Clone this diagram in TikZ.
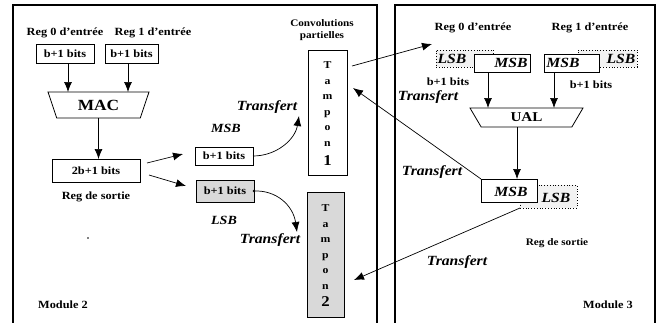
\documentclass[tikz,border=0pt]{standalone}
\usepackage{fontspec}
\setmainfont{Liberation Serif}[FakeStretch=1.12]
\usetikzlibrary{arrows.meta,shapes.geometric,calc}
\newcommand{\myfs}[1]{\fontsize{#1}{#1}\selectfont}
\begin{document}
\begin{tikzpicture}[x=1pt,y=-1pt,
  every node/.style={inner sep=0pt, outer sep=0pt},
  lbl/.style={font=\myfs{11}\bfseries},
  ital/.style={font=\myfs{14}\bfseries\itshape},
  box/.style={draw, line width=0.8pt, font=\myfs{11}\bfseries},
  lsbbox/.style={draw, dotted, line width=0.8pt, fill=black!5},
  shaded/.style={fill=black!15},
  trap/.style={draw, line width=0.8pt, trapezium, shape border rotate=180, trapezium stretches body},
  frame/.style={line width=1.1pt},
  arr/.style={-{Latex[length=10pt,width=8pt]}, line width=0.7pt},
  tamp/.style={box},
  tampt/.style={align=center, font=\fontsize{10.5}{15.5}\selectfont\bfseries}
]
\useasboundingbox (0,0) rectangle (660,322);
\fill[white] (0,0) rectangle (660,322);
% frames
\draw[frame] (13,323) -- (13,5) -- (377,5) -- (377,323);
\draw[frame] (395,323) -- (395,5) -- (655,5) -- (655,323);

% ---------------- Module 2 ----------------
\node[lbl] (l0) at (65,33) {Reg 0 d'entrée};
\node[lbl] (l1) at (153,33) {Reg 1 d'entrée};
\node[box, minimum width=58pt, minimum height=19pt] (r0) at (65,53.5) {b+1 bits};
\node[box, minimum width=53pt, minimum height=19pt] (r1) at (131.5,53.5) {b+1 bits};
\node[trap, minimum width=101pt, minimum height=26pt, trapezium angle=50, font=\myfs{15.5}\bfseries] (mac) at (98.5,105) {MAC};
\coordinate (r0o) at ([xshift=3pt]r0.south);
\coordinate (r1o) at ([xshift=-3.5pt]r1.south);
\draw[arr] (r0o) -- (r0o |- mac.north);
\draw[arr] (r1o) -- (r1o |- mac.north);
\node[box, minimum width=88pt, minimum height=23pt] (out2) at (96,170.5) {2b+1 bits};
\draw[arr] (mac.south) -- (mac.south |- out2.north);
\node[lbl] (rs2) at (96,197) {Reg de sortie};

\node[box, minimum width=58pt, minimum height=18pt] (m2a) at (224,156) {b+1 bits};
\node[box, shaded, minimum width=58pt, minimum height=22pt] (m2b) at (225,191) {b+1 bits};
\node[font=\myfs{12.5}\bfseries\itshape] (msb2) at (226,128) {MSB};
\node[font=\myfs{12.5}\bfseries\itshape] (lsb2) at (224,220) {LSB};

\coordinate (d1s) at (147,163);
\coordinate (d1e) at (183,154);
\coordinate (d2s) at (149,175);
\coordinate (d2e) at (186,186);
\draw[arr] (d1s) -- (d1e);
\draw[arr] (d2s) -- (d2e);

\node[font=\myfs{10}\bfseries, align=center] (conv) at (322,30) {Convolutions\\[2pt]partielles};
\node[tamp, minimum width=39pt, minimum height=125pt] (tp1) at (327.5,112.5) {};
\node[tampt] (tp1t) at (327.5,114) {T\\a\\m\\p\\o\\n\\[4pt]{\myfs{15}1}};
\node[tamp, shaded, minimum width=37pt, minimum height=125pt] (tp2) at (325.5,254.5) {};
\node[tampt] (tp2t) at (325.5,256) {T\\a\\m\\p\\o\\n\\[2pt]{\myfs{15}2}};

\coordinate (c1) at (299,116);
\draw[arr] (m2a.east) .. controls (276,156) and (295,140) .. (c1);
\node[ital] (tr1) at (267,107) {Transfert};
\coordinate (c2) at (297,232);
\fill (m2b.east) circle (1.3pt);
\draw[arr] (m2b.east) .. controls (276,190) and (293,205) .. (c2);
\node[ital] (tr2) at (270,240) {Transfert};

\node[font=\myfs{11}\bfseries] (mod2) at (63,305) {Module 2};
\fill (88,238) circle (0.8pt);

% ---------------- Module 3 ----------------
\node[lbl] (l30) at (473,28) {Reg 0 d'entrée};
\node[lbl] (l31) at (590,28) {Reg 1 d'entrée};
\node[lsbbox, minimum width=57pt, minimum height=17pt] (r0l) at (464.5,58.5) {};
\node[font=\myfs{14}\bfseries\itshape] at (452,58.5) {LSB};
\node[box, fill=white, minimum width=56pt, minimum height=18pt] (r0m) at (502,63) {};
\node[font=\myfs{14}\bfseries\itshape] at (511,63) {MSB};
\node[lsbbox, minimum width=59pt, minimum height=17pt] (r1l) at (607.5,58.5) {};
\node[font=\myfs{14}\bfseries\itshape] at (621,58.5) {LSB};
\node[box, fill=white, minimum width=55pt, minimum height=18pt] (r1m) at (571.5,63) {};
\node[font=\myfs{14}\bfseries\itshape] at (563,63) {MSB};
\node[lbl] (b30) at (448,82) {b+1 bits};
\node[lbl] (b31) at (591,85) {b+1 bits};
\node[ital] (tr3) at (428,97) {Transfert};

\node[trap, minimum width=113pt, minimum height=19pt, trapezium angle=39, font=\myfs{13.5}\bfseries] (ual) at (526.5,117.5) {UAL};
\coordinate (r0mo) at ([xshift=-14pt]r0m.south);
\coordinate (r1mo) at ([xshift=-17.5pt]r1m.south);
\draw[arr] (r0mo) -- (r0mo |- ual.north);
\draw[arr] (r1mo) -- (r1mo |- ual.north);

\node[lsbbox, minimum width=57pt, minimum height=23pt] (ol) at (548.5,196.5) {};
\node[font=\myfs{14}\bfseries\itshape] at (556,198) {LSB};
\node[box, fill=white, minimum width=56pt, minimum height=23pt] (om) at (509,190.5) {};
\node[font=\myfs{14}\bfseries\itshape] at (511,192) {MSB};
\coordinate (ualo) at ([xshift=-9.5pt]ual.south);
\draw[arr] (ualo) -- (ualo |- om.north);
\node[font=\myfs{10}\bfseries] (rs3) at (557,243) {Reg de sortie};
\node[ital] (tr4) at (432,172) {Transfert};
\node[ital] (tr5) at (457,262) {Transfert};
\node[font=\myfs{11}\bfseries] (mod3) at (608,305) {Module 3};

% cross-module transfers
\coordinate (t1s) at (352,66);
\coordinate (reg0in) at (432,44);
\draw[arr] (t1s) -- (reg0in);
\coordinate (t1in) at (353,88);
\draw[arr] (om.north west) -- (t1in);
\coordinate (t2in) at (354,280);
\draw[arr] (ol.south west) -- (t2in);
\end{tikzpicture}
\end{document}
